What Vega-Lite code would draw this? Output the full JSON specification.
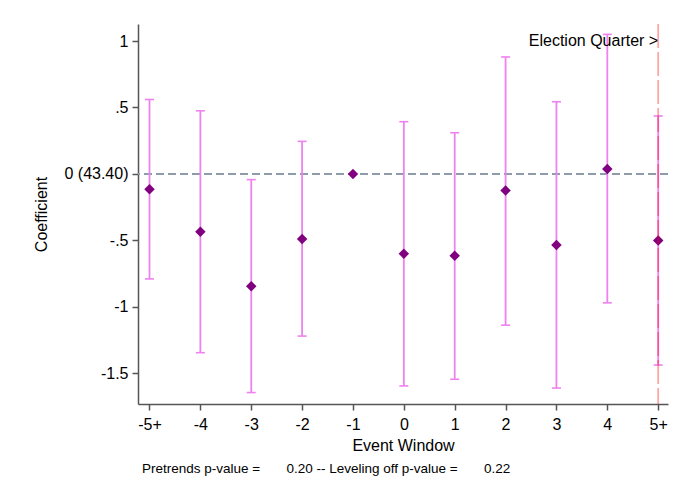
{
  "$schema": "https://vega.github.io/schema/vega-lite/v6.json",
  "autosize": {"type": "none"},
  "width": 530,
  "height": 380,
  "padding": {"left": 138, "top": 24, "right": 22, "bottom": 81},
  "background": "white",
  "config": {
    "view": {"stroke": null},
    "font": "Liberation Sans",
    "axis": {
      "domainColor": "#555555",
      "domainWidth": 1.5,
      "tickColor": "#555555",
      "tickWidth": 1.5,
      "tickSize": 6,
      "labelColor": "#000000",
      "titleColor": "#000000",
      "labelFont": "Liberation Sans",
      "titleFont": "Liberation Sans",
      "labelFontSize": 16,
      "titleFontSize": 16,
      "titleFontWeight": "normal",
      "grid": false
    }
  },
  "title": {
    "text": "Pretrends p-value =\u00a0\u00a0\u00a0\u00a0\u00a0\u00a0\u00a00.20 -- Leveling off p-value =\u00a0\u00a0\u00a0\u00a0\u00a0\u00a0\u00a00.22",
    "orient": "bottom",
    "anchor": "start",
    "frame": "group",
    "font": "Liberation Sans",
    "fontSize": 13.5,
    "fontWeight": "normal",
    "color": "#000000",
    "offset": 9,
    "dx": 4
  },
  "data": {
    "values": [
      {"t": -5, "coef": -0.115, "lo": -0.79, "hi": 0.56},
      {"t": -4, "coef": -0.435, "lo": -1.345, "hi": 0.475},
      {"t": -3, "coef": -0.845, "lo": -1.645, "hi": -0.043},
      {"t": -2, "coef": -0.49, "lo": -1.22, "hi": 0.245},
      {"t": -1, "coef": 0, "lo": null, "hi": null},
      {"t": 0, "coef": -0.6, "lo": -1.595, "hi": 0.393},
      {"t": 1, "coef": -0.615, "lo": -1.545, "hi": 0.31},
      {"t": 2, "coef": -0.125, "lo": -1.138, "hi": 0.88},
      {"t": 3, "coef": -0.534, "lo": -1.611, "hi": 0.543},
      {"t": 4, "coef": 0.0375, "lo": -0.97, "hi": 1.05},
      {"t": 5, "coef": -0.5, "lo": -1.438, "hi": 0.436}
    ]
  },
  "encoding": {
    "x": {
      "field": "t",
      "type": "quantitative",
      "scale": {"domain": [-5.226, 5.193], "nice": false, "zero": false},
      "axis": {
        "title": "Event Window",
        "values": [-5, -4, -3, -2, -1, 0, 1, 2, 3, 4, 5],
        "labelExpr": "datum.value == -5 ? '-5+' : datum.value == 5 ? '5+' : toString(datum.value)",
        "labelPadding": 6,
        "titlePadding": 5,
        "labelFlush": false
      }
    },
    "y": {
      "field": "coef",
      "type": "quantitative",
      "scale": {"domain": [-1.731, 1.128], "nice": false, "zero": false},
      "axis": {
        "title": "Coefficient",
        "values": [-1.5, -1, -0.5, 0, 0.5, 1],
        "labelExpr": "datum.value == 0 ? '0 (43.40)' : replace(toString(datum.value), '0.', '.')",
        "labelPadding": 4,
        "titlePadding": 14,
        "labelFlush": false
      }
    }
  },
  "layer": [
    {
      "data": {"values": [{"ref": 0}]},
      "mark": {"type": "rule", "color": "#8E9BAA", "strokeWidth": 2, "strokeDash": [8, 4]},
      "encoding": {"y": {"field": "ref", "type": "quantitative"}, "x": null}
    },
    {
      "transform": [{"filter": "isValid(datum.lo)"}],
      "mark": {"type": "rule", "color": "#EE82EE", "strokeWidth": 1.8},
      "encoding": {
        "y": {"field": "lo", "type": "quantitative"},
        "y2": {"field": "hi"}
      }
    },
    {
      "transform": [{"filter": "isValid(datum.lo)"}],
      "mark": {"type": "tick", "orient": "horizontal", "color": "#EE82EE", "size": 9, "thickness": 1.6, "opacity": 1},
      "encoding": {"y": {"field": "lo", "type": "quantitative"}}
    },
    {
      "transform": [{"filter": "isValid(datum.hi)"}],
      "mark": {"type": "tick", "orient": "horizontal", "color": "#EE82EE", "size": 9, "thickness": 1.6, "opacity": 1},
      "encoding": {"y": {"field": "hi", "type": "quantitative"}}
    },
    {
      "mark": {"type": "point", "shape": "diamond", "filled": true, "color": "#800080", "size": 110, "opacity": 1}
    },
    {
      "data": {"values": [{"q": 5}]},
      "mark": {"type": "rule", "color": "#FF0000", "opacity": 0.35, "strokeWidth": 1.8, "strokeDash": [24, 4]},
      "encoding": {"x": {"field": "q", "type": "quantitative"}, "y": null}
    },
    {
      "data": {"values": [{"q": 5, "v": 1, "label": "Election Quarter >"}]},
      "mark": {"type": "text", "align": "right", "baseline": "middle", "fontSize": 16, "font": "Liberation Sans", "color": "#000000"},
      "encoding": {
        "x": {"field": "q", "type": "quantitative"},
        "y": {"field": "v", "type": "quantitative"},
        "text": {"field": "label"}
      }
    }
  ]
}
